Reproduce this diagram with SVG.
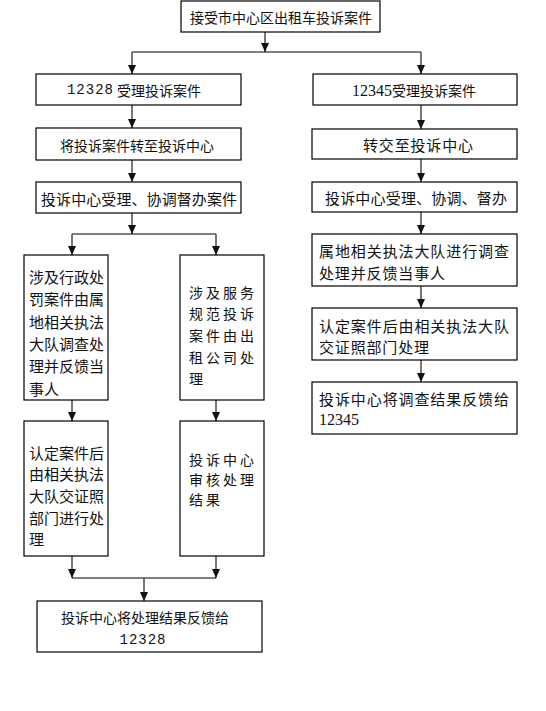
<svg xmlns="http://www.w3.org/2000/svg" width="546" height="711" viewBox="0 0 546 711">
<style>
.box{fill:#fff;stroke:#000;stroke-width:1.2}
.t{font-family:"Noto Sans CJK SC","Noto Sans",sans-serif;fill:#111;dominant-baseline:central}
.f14{font-size:14px}
.f15{font-size:15px}
.w{font-size:15px}
.sp{letter-spacing:3px}
.num{font-family:"Liberation Mono",monospace;font-size:14px;letter-spacing:1px}
.ser{font-family:"Liberation Serif",serif;font-size:16px;letter-spacing:0}
.stem{stroke:#555;stroke-width:1.6;fill:none}
.bus{stroke:#000;stroke-width:1.2;fill:none}
</style>
<defs>
<marker id="ah" markerUnits="userSpaceOnUse" markerWidth="10" markerHeight="10" refX="9" refY="4" orient="auto">
<path d="M0,0 L9,4 L0,8 z" fill="#111"/>
</marker>
</defs>
<rect width="546" height="711" fill="#fff"/>
<g id="connectors">
<line class="stem" x1="265" y1="32" x2="265" y2="52" marker-end="url(#ah)"/>
<line class="bus" x1="132" y1="52" x2="421" y2="52"/>
<line class="stem" x1="132" y1="52" x2="132" y2="74" marker-end="url(#ah)"/>
<line class="stem" x1="421" y1="52" x2="421" y2="74" marker-end="url(#ah)"/>
<line class="stem" x1="132" y1="105" x2="132" y2="128" marker-end="url(#ah)"/>
<line class="stem" x1="132" y1="160" x2="132" y2="182" marker-end="url(#ah)"/>
<line class="stem" x1="132" y1="213" x2="132" y2="234" marker-end="url(#ah)"/>
<line class="bus" x1="72" y1="234" x2="216" y2="234"/>
<line class="stem" x1="72" y1="234" x2="72" y2="255" marker-end="url(#ah)"/>
<line class="stem" x1="216" y1="234" x2="216" y2="255" marker-end="url(#ah)"/>
<line class="stem" x1="72" y1="400" x2="72" y2="421" marker-end="url(#ah)"/>
<line class="stem" x1="216" y1="400" x2="216" y2="421" marker-end="url(#ah)"/>
<line class="stem" x1="72" y1="556" x2="72" y2="578" marker-end="url(#ah)"/>
<line class="stem" x1="216" y1="556" x2="216" y2="578" marker-end="url(#ah)"/>
<line class="bus" x1="72" y1="578" x2="216" y2="578"/>
<line class="stem" x1="144" y1="578" x2="144" y2="601" marker-end="url(#ah)"/>
<line class="stem" x1="421" y1="105" x2="421" y2="129" marker-end="url(#ah)"/>
<line class="stem" x1="421" y1="159" x2="421" y2="182" marker-end="url(#ah)"/>
<line class="stem" x1="421" y1="212" x2="421" y2="234" marker-end="url(#ah)"/>
<line class="stem" x1="421" y1="286" x2="421" y2="308" marker-end="url(#ah)"/>
<line class="stem" x1="421" y1="360" x2="421" y2="382" marker-end="url(#ah)"/>
</g>
<g id="n-top">
<rect class="box" x="181" y="1" width="199" height="31"/>
<text class="t f14" x="281" y="17" text-anchor="middle">接受市中心区出租车投诉案件</text>
</g>
<g id="n-12328">
<rect class="box" x="36" y="74" width="205" height="31"/>
<text class="t f14" x="134" y="90" text-anchor="middle"><tspan class="num">12328</tspan> 受理投诉案件</text>
</g>
<g id="n-12345">
<rect class="box" x="313" y="74" width="204" height="31"/>
<text class="t f14" x="414" y="90" text-anchor="middle"><tspan class="ser" font-size="14px">12345</tspan>受理投诉案件</text>
</g>
<g id="n-l-transfer">
<rect class="box" x="36" y="128" width="205" height="32"/>
<text class="t f14" x="137" y="145" text-anchor="middle">将投诉案件转至投诉中心</text>
</g>
<g id="n-l-center">
<rect class="box" x="36" y="182" width="205" height="31"/>
<text class="t w" x="41" y="198" textLength="196" lengthAdjust="spacing">投诉中心受理、协调督办案件</text>
</g>
<g id="n-l-admin">
<rect class="box" x="24" y="255" width="84" height="145"/>
<text class="t f15" x="29">
<tspan x="29" y="276">涉及行政处</tspan>
<tspan x="29" y="298">罚案件由属</tspan>
<tspan x="29" y="321">地相关执法</tspan>
<tspan x="29" y="343">大队调查处</tspan>
<tspan x="29" y="365">理并反馈当</tspan>
<tspan x="29" y="388">事人</tspan>
</text>
</g>
<g id="n-l-service">
<rect class="box" x="180" y="255" width="84" height="145"/>
<text class="t f14 sp" x="189">
<tspan x="189" y="292">涉及服务</tspan>
<tspan x="189" y="313">规范投诉</tspan>
<tspan x="189" y="335">案件由出</tspan>
<tspan x="189" y="357">租公司处</tspan>
<tspan x="189" y="378">理</tspan>
</text>
</g>
<g id="n-l-confirm">
<rect class="box" x="24" y="421" width="84" height="135"/>
<text class="t f15" x="29">
<tspan x="29" y="452">认定案件后</tspan>
<tspan x="29" y="473">由相关执法</tspan>
<tspan x="29" y="495">大队交证照</tspan>
<tspan x="29" y="517">部门进行处</tspan>
<tspan x="29" y="538">理</tspan>
</text>
</g>
<g id="n-l-review">
<rect class="box" x="180" y="421" width="84" height="135"/>
<text class="t f14 sp" x="189">
<tspan x="189" y="459">投诉中心</tspan>
<tspan x="189" y="479">审核处理</tspan>
<tspan x="189" y="499">结果</tspan>
</text>
</g>
<g id="n-l-feedback">
<rect class="box" x="37" y="601" width="225" height="51"/>
<text class="t f14" x="145" y="617" text-anchor="middle">投诉中心将处理结果反馈给</text>
<text class="t num" x="143" y="640" text-anchor="middle">12328</text>
</g>
<g id="n-r-transfer">
<rect class="box" x="312" y="129" width="205" height="30"/>
<text class="t w" x="363" y="144" textLength="110" lengthAdjust="spacing">转交至投诉中心</text>
</g>
<g id="n-r-center">
<rect class="box" x="312" y="182" width="205" height="30"/>
<text class="t w" x="325" y="197" textLength="182" lengthAdjust="spacing">投诉中心受理、协调、督办</text>
</g>
<g id="n-r-investigate">
<rect class="box" x="312" y="234" width="205" height="52"/>
<text class="t w" x="319" y="250" textLength="190" lengthAdjust="spacing">属地相关执法大队进行调查</text>
<text class="t w" x="319" y="272" textLength="126" lengthAdjust="spacing">处理并反馈当事人</text>
</g>
<g id="n-r-confirm">
<rect class="box" x="312" y="308" width="205" height="52"/>
<text class="t w" x="319" y="325" textLength="190" lengthAdjust="spacing">认定案件后由相关执法大队</text>
<text class="t w" x="319" y="346" textLength="110" lengthAdjust="spacing">交证照部门处理</text>
</g>
<g id="n-r-feedback">
<rect class="box" x="312" y="382" width="205" height="52"/>
<text class="t w" x="319" y="398" textLength="190" lengthAdjust="spacing">投诉中心将调查结果反馈给</text>
<text class="t ser" x="319" y="419">12345</text>
</g>
</svg>
